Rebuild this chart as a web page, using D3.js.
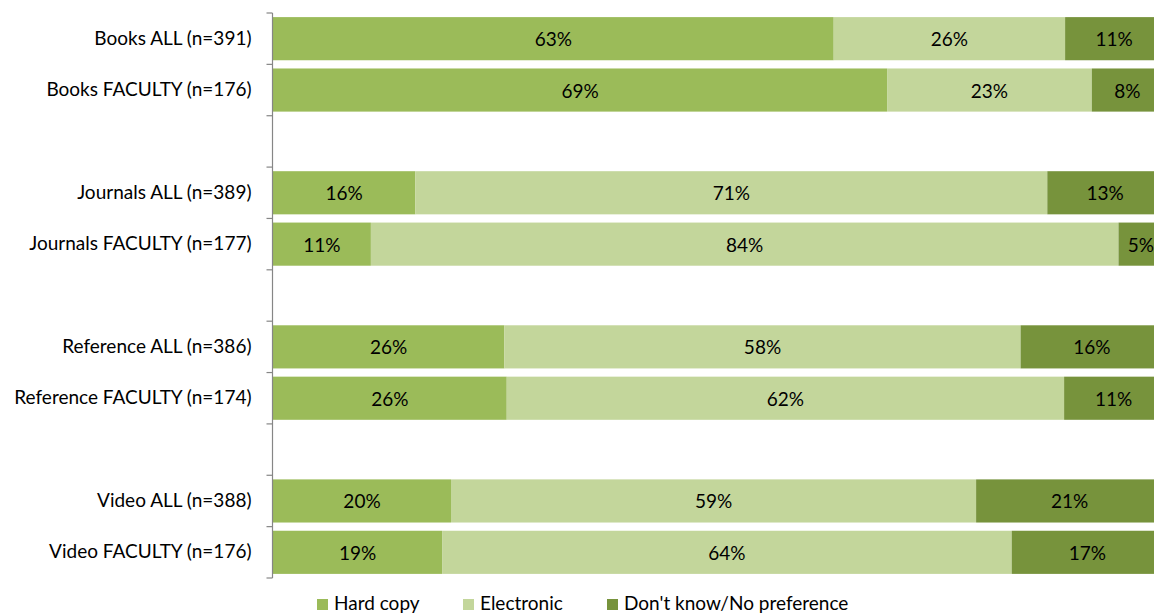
<!DOCTYPE html>
<html>
<head>
<meta charset="utf-8">
<script src="https://cdn.jsdelivr.net/npm/d3@7"></script>
<style>
  html, body { margin: 0; padding: 0; background: #fff; overflow: hidden; }
  svg { display: block; font-family: Lato, "Open Sans", sans-serif; }
</style>
</head>
<body>
<svg id="chart" width="1154" height="615"></svg>
<script>
// Survey: preferred format by resource type and respondent group (percent)
const categories = [
  "Books ALL (n=391)", "Books FACULTY (n=176)", "",
  "Journals ALL (n=389)", "Journals FACULTY (n=177)", " ",
  "Reference ALL (n=386)", "Reference FACULTY (n=174)", "  ",
  "Video ALL (n=388)", "Video FACULTY (n=176)"
];
const seriesNames = ["Hard copy", "Electronic", "Don't know/No preference"];
const hardCopy   = [63, 69, null, 16, 11, null, 26, 26, null, 20, 19];
const electronic = [26, 23, null, 71, 84, null, 58, 62, null, 59, 64];
const dontKnow   = [11,  8, null, 13,  5, null, 16, 11, null, 21, 17];
const colors = ["#9BBB59", "#C3D69B", "#77933C"];

const fontSize = 19;
const svg = d3.select("#chart");
const axisX = 272.5;

const rows = categories.map((c, i) => ({
  cat: c,
  "Hard copy": hardCopy[i],
  "Electronic": electronic[i],
  "Don't know/No preference": dontKnow[i]
}));
const dataRows = rows.filter(r => r["Hard copy"] !== null);

// 100% stacked: each row normalised to its own total
const stack = d3.stack().keys(seriesNames).offset(d3.stackOffsetExpand);
const layers = stack(dataRows);

const x = d3.scaleLinear().domain([0, 1]).range([273, 1163]);
const y = d3.scaleBand().domain(categories).range([13, 578])
  .paddingInner(0.16).paddingOuter(0.08);

const g = svg.append("g");
layers.forEach((layer, si) => {
  const lg = g.append("g").attr("fill", colors[si]);
  lg.selectAll("rect").data(layer).join("rect")
    .attr("x", d => x(d[0]))
    .attr("y", d => y(d.data.cat))
    .attr("width", d => x(d[1]) - x(d[0]))
    .attr("height", y.bandwidth());
  g.append("g").selectAll("text").data(layer).join("text")
    .attr("x", d => (x(d[0]) + x(d[1])) / 2)
    .attr("y", d => y(d.data.cat) + y.bandwidth() / 2)
    .attr("text-anchor", "middle")
    .attr("dominant-baseline", "central")
    .attr("font-size", fontSize)
    .attr("fill", "#000")
    .text(d => d.data[seriesNames[si]] + "%");
});

// Category axis: labels at band centres, tick marks at band boundaries
const yAxis = d3.axisLeft(y).tickSize(0).tickPadding(21);
const ax = svg.append("g").attr("transform", `translate(${axisX},0)`).call(yAxis);
ax.select(".domain").remove();
ax.selectAll("text").attr("font-size", fontSize).attr("fill", "#000")
  .attr("font-family", "Lato, 'Open Sans', sans-serif");

const half = (y.step() - y.bandwidth()) / 2;
const bounds = categories.map(c => y(c) - half).concat([y(categories[categories.length - 1]) + y.bandwidth() + half]);
svg.append("line")
  .attr("x1", axisX).attr("x2", axisX)
  .attr("y1", bounds[0]).attr("y2", bounds[bounds.length - 1])
  .attr("stroke", "#868686").attr("stroke-width", 1.2);
svg.append("g").selectAll("line").data(bounds).join("line")
  .attr("x1", axisX - 6).attr("x2", axisX)
  .attr("y1", d => d).attr("y2", d => d)
  .attr("stroke", "#868686").attr("stroke-width", 1.2);

// Legend
const legendX = [317, 463, 607];
const lgd = svg.append("g");
seriesNames.forEach((s, i) => {
  lgd.append("rect").attr("x", legendX[i]).attr("y", 599)
    .attr("width", 11).attr("height", 11).attr("fill", colors[i]);
  lgd.append("text").attr("x", legendX[i] + 17).attr("y", 610)
    .attr("font-size", fontSize).attr("fill", "#000").text(s);
});
</script>
</body>
</html>
